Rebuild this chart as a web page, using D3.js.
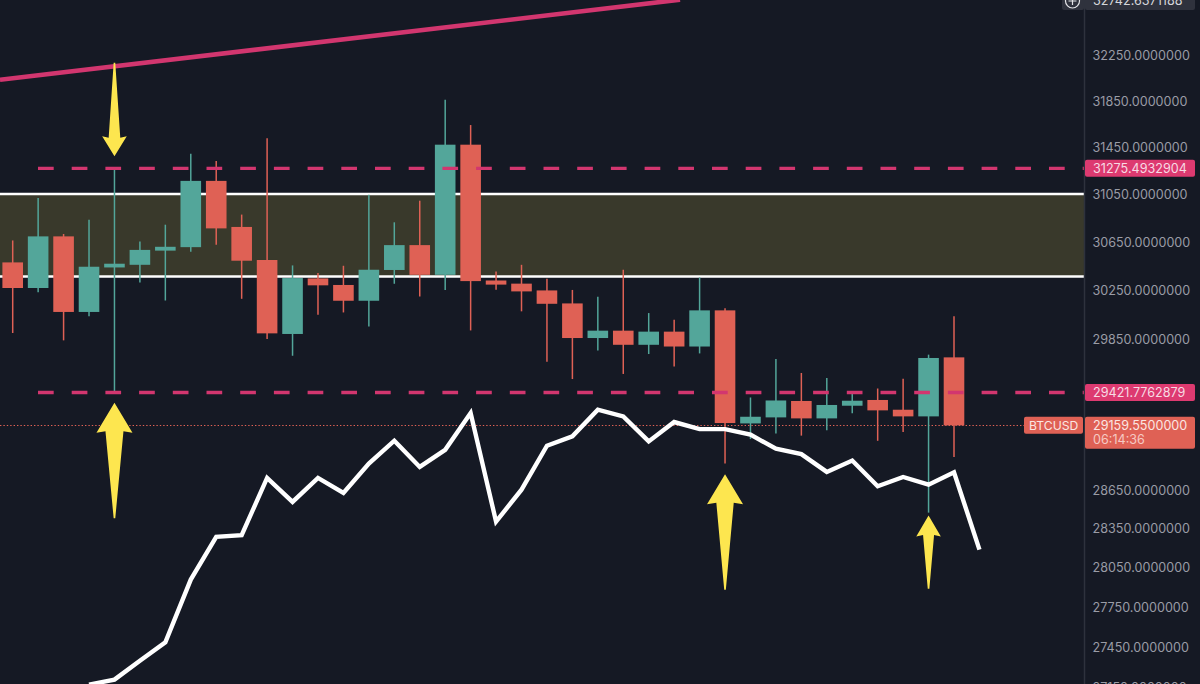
<!DOCTYPE html>
<html>
<head>
<meta charset="utf-8">
<script src="https://cdnjs.cloudflare.com/ajax/libs/d3/7.8.5/d3.min.js"></script>
<style>
    html, body { margin: 0; padding: 0; background: #151924; overflow: hidden; }
    svg { display: block; }
    text { font-family: Inter, Roboto, sans-serif; font-size: 12.6px; }
</style>
</head>
<body>
<div class="chart"></div>
<script>
// candles (log price axis)
var opens = [30484, 30272, 30701, 30075, 30442, 30464, 30582, 30611, 31169, 30780, 30504, 29895, 30351, 30297, 30167, 30421, 30628, 30381, 31478, 30334, 30308, 30252, 30145, 29862, 29922, 29807, 29914, 29793, 30088, 29175, 29223, 29354, 29215, 29316, 29362, 29284, 29231, 29705];
var closes = [30272, 30701, 30075, 30448, 30473, 30588, 30614, 31169, 30768, 30498, 29900, 30354, 30294, 30167, 30423, 30628, 30381, 31478, 30329, 30300, 30244, 30142, 29862, 29922, 29807, 29914, 29793, 30088, 29178, 29228, 29358, 29215, 29322, 29356, 29279, 29231, 29700, 29159.55];
var highs = [30667, 31024, 30721, 30841, 31275.49, 30659, 30799, 31401, 31339, 30884, 31533, 30459, 30396, 30456, 31052, 30819, 31001, 31865, 31647, 30409, 30464, 30348, 30256, 30200, 30423, 30066, 30012, 30359, 30105, 29382, 29692, 29579, 29538, 29417, 29454, 29533, 29727, 30039];
var lows = [29903, 30236, 29843, 30039, 29421.78, 30318, 30169, 30572, 30631, 30183, 29854, 29718, 30052, 30071, 29957, 30307, 30202, 30256, 29924, 30258, 30080, 29670, 29530, 29760, 29571, 29732, 29632, 29737, 28857, 29051, 29094, 29078, 29120, 29255, 29037, 29107, 28474, 28909];

// white overlay line, starts at candle 3 and runs one bar past the last candle
var lineStart = 3;
var lineValues = [27170, 27207, 27348, 27485, 27959, 28287, 28299, 28745, 28557, 28745, 28627, 28857, 29038, 28831, 28966, 29258, 28404, 28653, 28998, 29072, 29284, 29231, 29032, 29186, 29130, 29130, 29086, 28974, 28932, 28792, 28881, 28679, 28752, 28692, 28789, 28188];

var yTicks = [32250, 31850, 31450, 31050, 30650, 30250, 29850, 28650, 28350, 28050, 27750, 27450, 27150];

var zonePrices = [31058, 30367];
var dashPrices = [31275.4932904, 29421.7762879];
var lastPrice = 29159.55;
var topPrice = 32742.6371188;
var countdown = "06:14:36";
var symbol = "BTCUSD";

// pink trend line: two anchors in bar index / price
var trendBars = [-0.5, 26.23];
var trendPrices = [32040, 32747];

// yellow arrows
var arrowBars = [4, 4, 28, 36];
var arrowTips = [31378, 29340, 28773, 28451];
var arrowTails = [32188, 28430, 27882, 27889];

var svgWidth = 1200;
var svgHeight = 684;
var axisX = 1084.5;
var bodyWidth = 20.6;

var colors = {
    bg: "#151924",
    up: "#53a69a",
    down: "#df6155",
    zone: "#39392b",
    pink: "#d2366f",
    tag: "#dd3a70",
    yellow: "#fde64f",
    axis: "#2e323d",
    tick: "#9a9ca6"
};

// arrow head sizes in pixels, one per arrow
var headLength = [20, 30, 30, 21];
var headHalf = [12.3, 18, 18, 12.3];
var shaftHalf = [5.8, 9, 8.7, 5.5];

var svg = d3.select(".chart")
    .append("svg")
    .attr("width", svgWidth)
    .attr("height", svgHeight);

svg.append("rect")
    .attr("width", svgWidth)
    .attr("height", svgHeight)
    .attr("fill", colors.bg);

// scales
var x = d3.scaleLinear()
    .domain([0, 37])
    .range([12.7, 954]);

var y = d3.scaleLog()
    .domain([32250, 27450])
    .range([55.8, 647]);

// zone between the two white lines
svg.append("rect")
    .attr("x", 0)
    .attr("width", axisX)
    .attr("y", y(zonePrices[0]))
    .attr("height", y(zonePrices[1]) - y(zonePrices[0]))
    .attr("fill", colors.zone);

svg.selectAll(".zoneLine")
    .data(zonePrices)
    .enter()
    .append("line")
    .attr("class", "zoneLine")
    .attr("x1", 0)
    .attr("x2", axisX)
    .attr("y1", d => y(d))
    .attr("y2", d => y(d))
    .attr("stroke", "#fff")
    .attr("stroke-width", 2.4);

// last price dotted line, snapped to the pixel grid so the dots stay red
var dotY = Math.floor(y(lastPrice)) + 0.5;

svg.append("line")
    .attr("x1", 0)
    .attr("x2", axisX)
    .attr("y1", dotY)
    .attr("y2", dotY)
    .attr("stroke", colors.down)
    .attr("stroke-width", 1)
    .attr("stroke-dasharray", "1.4 2");

// candles
var candles = d3.range(opens.length).map(function (i) {
    return { i: i, open: opens[i], close: closes[i], high: highs[i], low: lows[i] };
});

function candleColor(d) {
    return d.close >= d.open ? colors.up : colors.down;
}

var candleGroup = svg.append("g");

candleGroup.selectAll(".wick")
    .data(candles)
    .enter()
    .append("line")
    .attr("class", "wick")
    .attr("x1", d => x(d.i))
    .attr("x2", d => x(d.i))
    .attr("y1", d => y(d.high))
    .attr("y2", d => y(d.low))
    .attr("stroke", candleColor)
    .attr("stroke-width", 1.5);

candleGroup.selectAll(".body")
    .data(candles)
    .enter()
    .append("rect")
    .attr("class", "body")
    .attr("x", d => x(d.i) - bodyWidth / 2)
    .attr("width", bodyWidth)
    .attr("y", d => y(Math.max(d.open, d.close)))
    .attr("height", d => Math.abs(y(d.open) - y(d.close)))
    .attr("fill", candleColor);

// dashed levels sit on top of the candles
svg.selectAll(".level")
    .data(dashPrices)
    .enter()
    .append("line")
    .attr("class", "level")
    .attr("x1", 38)
    .attr("x2", axisX)
    .attr("y1", d => y(d))
    .attr("y2", d => y(d))
    .attr("stroke", colors.pink)
    .attr("stroke-width", 3.4)
    .attr("stroke-dasharray", "15.7 18");

// trend line
var trendLine = d3.line()
    .x(d => x(d[0]))
    .y(d => y(d[1]));

svg.append("path")
    .attr("d", trendLine(d3.zip(trendBars, trendPrices)))
    .attr("fill", "none")
    .attr("stroke", colors.pink)
    .attr("stroke-width", 4.6);

// white line
var overlay = d3.line()
    .x((d, i) => x(i + lineStart))
    .y(d => y(d));

svg.append("path")
    .attr("d", overlay(lineValues))
    .attr("fill", "none")
    .attr("stroke", "#fff")
    .attr("stroke-width", 4.4)
    .attr("stroke-linejoin", "miter");

// arrows
var arrowPath = d3.line();

arrowBars.forEach(function (bar, i) {
    var cx = x(bar);
    var tip = y(arrowTips[i]);
    var tail = y(arrowTails[i]);
    var dir = tail > tip ? 1 : -1;
    var base = tip + dir * headLength[i];
    var notch = base - dir * 1.5;
    svg.append("path")
        .attr("d", arrowPath([
            [cx, tip],
            [cx + headHalf[i], base],
            [cx + shaftHalf[i], notch],
            [cx + 0.8, tail],
            [cx - 0.8, tail],
            [cx - shaftHalf[i], notch],
            [cx - headHalf[i], base]
        ]) + "Z")
        .attr("fill", colors.yellow);
});

// price axis
svg.append("line")
    .attr("x1", axisX)
    .attr("x2", axisX)
    .attr("y1", 0)
    .attr("y2", svgHeight)
    .attr("stroke", colors.axis)
    .attr("stroke-width", 1.5);

var yAxis = d3.axisRight(y)
    .tickValues(yTicks)
    .tickFormat(d3.format(".7f"))
    .tickSize(0)
    .tickPadding(8);

var axisGroup = svg.append("g")
    .attr("transform", `translate(${axisX}, 0)`)
    .call(yAxis);

axisGroup.select(".domain").remove();
axisGroup.selectAll("text")
    .attr("fill", colors.tick)
    .style("font-family", "Inter, Roboto, sans-serif")
    .style("font-size", "12.6px");

// price tags on the axis
function priceTag(price, fill, textFill) {
    var cy = y(price);
    svg.append("rect")
        .attr("x", 1085)
        .attr("y", cy - 8.5)
        .attr("width", 110)
        .attr("height", 17)
        .attr("rx", 2)
        .attr("fill", fill);
    svg.append("text")
        .attr("x", 1093)
        .attr("y", cy)
        .attr("dy", "0.35em")
        .attr("fill", textFill)
        .text(d3.format(".7f")(price));
}

dashPrices.forEach(function (p) {
    priceTag(p, colors.tag, "#f7dbe4");
});

// top tag with the plus button, cut off by the window
svg.append("rect")
    .attr("x", 1085)
    .attr("y", -8)
    .attr("width", 110)
    .attr("height", 18)
    .attr("rx", 2)
    .attr("fill", "#2f323d");
svg.append("text")
    .attr("x", 1093)
    .attr("y", y(topPrice))
    .attr("dy", "0.35em")
    .attr("fill", "#d5d6da")
    .text(d3.format(".7f")(topPrice));
svg.append("rect")
    .attr("x", 1062)
    .attr("y", -8)
    .attr("width", 22)
    .attr("height", 18)
    .attr("rx", 2)
    .attr("fill", "#2f323d");
svg.append("circle")
    .attr("cx", 1072.5)
    .attr("cy", 1)
    .attr("r", 7)
    .attr("fill", "none")
    .attr("stroke", "#e4e5e8")
    .attr("stroke-width", 1.2);
svg.append("path")
    .attr("d", "M1072.5,-3V5M1068.5,1H1076.5")
    .attr("stroke", "#e4e5e8")
    .attr("stroke-width", 1.2);

// last price tag with the countdown and the symbol label
var lastY = y(lastPrice);

svg.append("rect")
    .attr("x", 1085)
    .attr("y", lastY - 8.5)
    .attr("width", 110)
    .attr("height", 32)
    .attr("rx", 2)
    .attr("fill", colors.down);
svg.append("text")
    .attr("x", 1093)
    .attr("y", lastY)
    .attr("dy", "0.35em")
    .attr("fill", "#fbe6e3")
    .text(d3.format(".7f")(lastPrice));
svg.append("text")
    .attr("x", 1093)
    .attr("y", lastY + 14.5)
    .attr("dy", "0.35em")
    .attr("fill", "#f6c9c3")
    .text(countdown);
svg.append("rect")
    .attr("x", 1024)
    .attr("y", lastY - 8.5)
    .attr("width", 59)
    .attr("height", 17)
    .attr("rx", 2)
    .attr("fill", colors.down);
svg.append("text")
    .attr("x", 1029)
    .attr("y", lastY)
    .attr("dy", "0.35em")
    .attr("fill", "#fbe6e3")
    .style("font-size", "12.2px")
    .text(symbol);
</script>
</body>
</html>
